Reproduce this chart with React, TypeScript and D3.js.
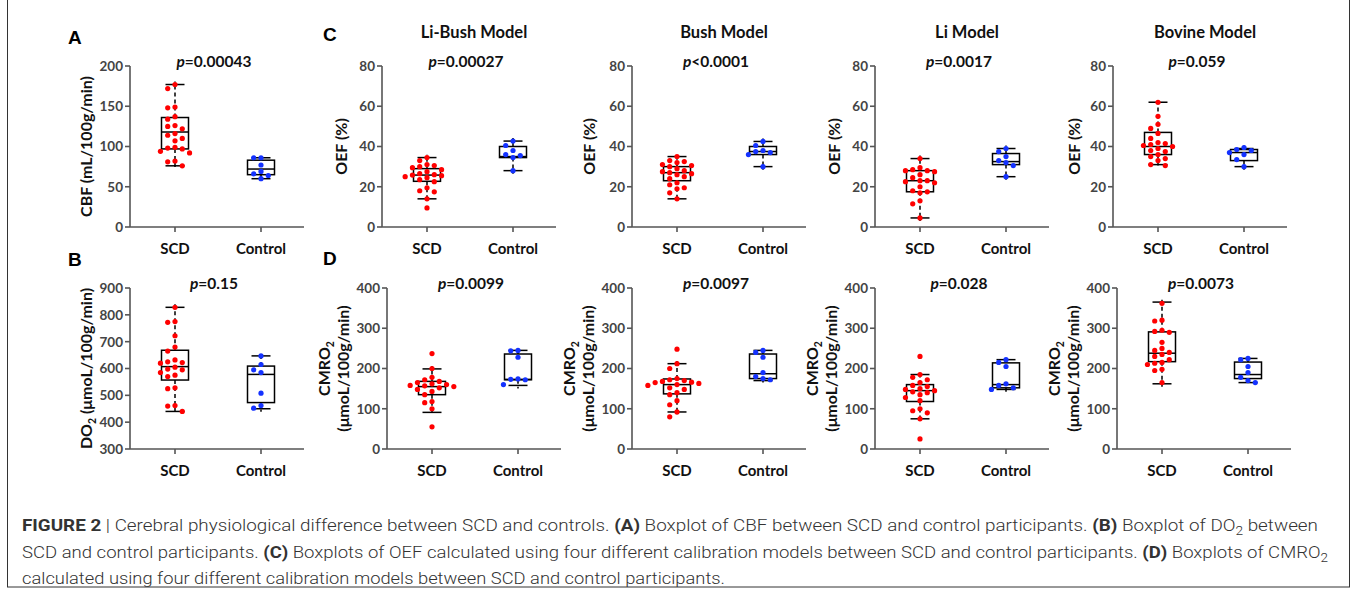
import * as d3 from "d3";

const groups = ["SCD", "Control"];

// A: CBF
const cbfScd = [177, 172, 149, 148, 137, 134, 126, 125, 122, 116, 114, 110, 107, 99, 98, 97, 94, 92, 82, 81, 76];
const cbfCtrl = [86, 86, 77, 69, 66, 64, 60];
const cbfBox = [[76, 97, 118, 136, 177], [60, 65, 72, 83, 86]];
const cbfTicks = [0, 50, 100, 150, 200];

// B: DO2
const do2Scd = [828, 775, 772, 722, 680, 665, 632, 625, 622, 620, 605, 598, 595, 585, 575, 570, 528, 525, 462, 460, 440];
const do2Ctrl = [647, 615, 595, 585, 508, 462, 452];
const do2Box = [[440, 557, 607, 668, 828], [450, 473, 578, 609, 647]];
const do2Ticks = [300, 400, 500, 600, 700, 800, 900];

// C: OEF
const oefTicks = [0, 20, 40, 60, 80];
const oefLiBushScd = [34.5, 33, 31, 30.5, 30, 29.5, 28.5, 27.5, 26.5, 26, 25.8, 25.5, 25, 24.5, 23.5, 22.5, 19.5, 18, 17.5, 14, 9.5];
const oefLiBushCtrl = [42.7, 40.5, 38, 36, 35.5, 34.5, 28];
const oefLiBushBox = [[14, 22.7, 25.8, 29, 34.5], [28, 34.5, 35, 40, 42.7]];
const oefBushScd = [35, 33, 32.5, 32, 31, 30.5, 30, 29, 28, 27.5, 27, 26.5, 26, 25, 24, 22, 21, 19.5, 19, 17, 14];
const oefBushCtrl = [42.5, 40.5, 38, 37.5, 37, 36, 30];
const oefBushBox = [[14, 23, 27, 30, 35], [30, 36, 37.5, 40, 42.5]];
const oefLiScd = [34, 29.5, 28.5, 28, 28, 27.5, 26, 24.5, 23, 23, 22.5, 22, 20, 18, 17.5, 17, 13, 11.5, 4.5];
const oefLiCtrl = [39, 37.5, 35, 33, 32, 30.5, 25];
const oefLiBox = [[4.5, 17.5, 23, 28, 34], [25, 31, 32.5, 36.5, 39]];
const oefBovineScd = [62, 55, 51, 49, 46.5, 44, 42, 41.5, 41, 40.5, 40, 39, 38, 37.5, 36, 35, 34, 33, 31, 30.5];
const oefBovineCtrl = [39.5, 38.5, 38, 37, 36, 33.5, 30];
const oefBovineBox = [[31, 36, 40, 47, 62], [30, 33, 37, 38.5, 39]];

// D: CMRO2
const cmroTicks = [0, 100, 200, 300, 400];
const cmroLiBushScd = [237, 200, 178, 172, 168, 165, 162, 160, 158, 157, 155, 152, 148, 143, 135, 118, 115, 100, 55];
const cmroLiBushCtrl = [245, 244, 228, 174, 173, 172, 160];
const cmroLiBushBox = [[91, 135, 155, 168, 199], [158, 172, 173, 236, 245]];
const cmroBushScd = [248, 212, 200, 175, 172, 170, 168, 166, 165, 163, 160, 158, 152, 148, 140, 135, 120, 110, 92, 80];
const cmroBushCtrl = [245, 240, 228, 190, 180, 175, 172];
const cmroBushBox = [[92, 137, 160, 174, 212], [170, 175, 187, 236, 245]];
const cmroLiScd = [230, 185, 178, 172, 165, 158, 155, 150, 148, 145, 142, 140, 135, 128, 120, 100, 95, 90, 75, 25];
const cmroLiCtrl = [222, 215, 205, 162, 158, 152, 148];
const cmroLiBox = [[75, 118, 145, 160, 185], [148, 152, 160, 214, 222]];
const cmroBovineScd = [362, 320, 318, 295, 292, 290, 265, 250, 245, 240, 235, 230, 222, 215, 213, 210, 198, 195, 165];
const cmroBovineCtrl = [225, 222, 205, 190, 178, 170, 165];
const cmroBovineBox = [[162, 217, 238, 291, 365], [165, 175, 185, 216, 225]];

const FONT = "Lato, 'Open Sans', sans-serif";
const colors = ["#ff0000", "#1432ff"];

const top1 = 66, bot1 = 227, top2 = 288, bot2 = 449;

const panels = [
  { id: "A", x: 130, top: top1, bot: bot1, domain: [0, 200], ticks: cbfTicks, scd: cbfScd, ctrl: cbfCtrl, box: cbfBox, p: "=0.00043", label: ["CBF (mL/100g/min)"], labelDx: [38] },
  { id: "B", x: 130, top: top2, bot: bot2, domain: [300, 900], ticks: do2Ticks, scd: do2Scd, ctrl: do2Ctrl, box: do2Box, p: "=0.15", label: ["DO2 (μmoL/100g/min)"], labelDx: [38] },
  { id: "C1", x: 382, top: top1, bot: bot1, domain: [0, 80], ticks: oefTicks, scd: oefLiBushScd, ctrl: oefLiBushCtrl, box: oefLiBushBox, p: "=0.00027", label: ["OEF (%)"], labelDx: [35], title: "Li-Bush Model" },
  { id: "C2", x: 632, top: top1, bot: bot1, domain: [0, 80], ticks: oefTicks, scd: oefBushScd, ctrl: oefBushCtrl, box: oefBushBox, p: "<0.0001", label: ["OEF (%)"], labelDx: [37], title: "Bush Model" },
  { id: "C3", x: 875, top: top1, bot: bot1, domain: [0, 80], ticks: oefTicks, scd: oefLiScd, ctrl: oefLiCtrl, box: oefLiBox, p: "=0.0017", label: ["OEF (%)"], labelDx: [35], title: "Li Model" },
  { id: "C4", x: 1113, top: top1, bot: bot1, domain: [0, 80], ticks: oefTicks, scd: oefBovineScd, ctrl: oefBovineCtrl, box: oefBovineBox, p: "=0.059", label: ["OEF (%)"], labelDx: [33], title: "Bovine Model" },
  { id: "D1", x: 387, top: top2, bot: bot2, domain: [0, 400], ticks: cmroTicks, scd: cmroLiBushScd, ctrl: cmroLiBushCtrl, box: cmroLiBushBox, p: "=0.0099", label: ["CMRO2", "(μmoL/100g/min)"], labelDx: [57, 38] },
  { id: "D2", x: 632, top: top2, bot: bot2, domain: [0, 400], ticks: cmroTicks, scd: cmroBushScd, ctrl: cmroBushCtrl, box: cmroBushBox, p: "=0.0097", label: ["CMRO2", "(μmoL/100g/min)"], labelDx: [57, 38] },
  { id: "D3", x: 875, top: top2, bot: bot2, domain: [0, 400], ticks: cmroTicks, scd: cmroLiScd, ctrl: cmroLiCtrl, box: cmroLiBox, p: "=0.028", label: ["CMRO2", "(μmoL/100g/min)"], labelDx: [57, 38] },
  { id: "D4", x: 1117, top: top2, bot: bot2, domain: [0, 400], ticks: cmroTicks, scd: cmroBovineScd, ctrl: cmroBovineCtrl, box: cmroBovineBox, p: "=0.0073", label: ["CMRO2", "(μmoL/100g/min)"], labelDx: [57, 38] },
];

// simple deterministic beeswarm so close values spread sideways
const swarm = (values, y, r) => {
  const placed = [];
  const sorted = [...values].sort((a, b) => b - a);
  sorted.forEach((v) => {
    const py = y(v);
    const steps = [0, -1, 1, -2, 2, -3, 3, -4, 4];
    for (const s of steps) {
      const px = s * r * 2.8;
      const hit = placed.some((p) => (p.x - px) ** 2 + (p.y - py) ** 2 < (r * 2.3) ** 2);
      if (!hit) {
        placed.push({ x: px, y: py, v });
        break;
      }
    }
  });
  return placed;
};

// renders the "2" of O2 as a subscript
const withSub = (str, size) => {
  const i = str.indexOf("O2");
  if (i < 0) return str;
  return [
    <tspan key="a">{str.slice(0, i + 1)}</tspan>,
    <tspan key="b" dy={4} fontSize={size * 0.65}>2</tspan>,
    <tspan key="c" dy={-4}>{str.slice(i + 2)}</tspan>,
  ];
};

const Panel = ({ cfg }) => {
  const y = d3.scaleLinear().domain(cfg.domain).range([cfg.bot, cfg.top]);
  const x = d3.scalePoint().domain(groups).range([cfg.x + 45, cfg.x + 131]);
  const xEnd = cfg.x + 174;
  const mid = (x("SCD") + x("Control")) / 2 - 4;
  const yMid = (cfg.top + cfg.bot) / 2;
  const boxW = 27;
  const capW = 19;
  const series = [cfg.scd, cfg.ctrl];

  return (
    <g>
      {cfg.title && (
        <text x={mid + 8} y={38} textAnchor="middle" fontSize={16.5} fontWeight={700} fill="#111">
          {cfg.title}
        </text>
      )}
      <text x={mid} y={cfg.top + 1} textAnchor="middle" fontSize={15.5} fontWeight={700} fill="#111">
        <tspan fontStyle="italic">p</tspan>
        {cfg.p}
      </text>

      {/* y label */}
      {cfg.label.map((l, i) => (
        <text
          key={l}
          transform={`translate(${cfg.x - cfg.labelDx[i]},${yMid}) rotate(-90)`}
          textAnchor="middle"
          fontSize={16}
          fontWeight={700}
          fill="#111"
        >
          {withSub(l, 16)}
        </text>
      ))}

      {/* axes */}
      <g stroke="#555" strokeWidth={1.6} fill="none">
        <line x1={cfg.x} x2={cfg.x} y1={cfg.top} y2={cfg.bot} />
        <line x1={cfg.x} x2={xEnd} y1={cfg.bot} y2={cfg.bot} />
        {cfg.ticks.map((t) => (
          <line key={t} x1={cfg.x - 5} x2={cfg.x} y1={y(t)} y2={y(t)} />
        ))}
        {groups.map((g) => (
          <line key={g} x1={x(g)} x2={x(g)} y1={cfg.bot} y2={cfg.bot + 5} />
        ))}
      </g>
      {cfg.ticks.map((t) => (
        <text key={t} x={cfg.x - 7} y={y(t)} dy="0.36em" textAnchor="end" fontSize={13.5} fontWeight={700} fill="#444">
          {t}
        </text>
      ))}
      {groups.map((g) => (
        <text key={g} x={x(g)} y={cfg.bot + 27} textAnchor="middle" fontSize={15} fontWeight={700} fill="#111">
          {g}
        </text>
      ))}

      {/* boxes */}
      {groups.map((g, gi) => {
        const [lo, q1, med, q3, hi] = cfg.box[gi];
        const cx = x(g);
        return (
          <g key={g} stroke="#000" strokeWidth={1.5} fill="none">
            <line x1={cx} x2={cx} y1={y(q3)} y2={y(hi) - 3} strokeDasharray="4 3" />
            <line x1={cx} x2={cx} y1={y(q1)} y2={y(lo) + 3} strokeDasharray="4 3" />
            <line x1={cx - capW / 2} x2={cx + capW / 2} y1={y(hi)} y2={y(hi)} />
            <line x1={cx - capW / 2} x2={cx + capW / 2} y1={y(lo)} y2={y(lo)} />
            <rect x={cx - boxW / 2} y={y(q3)} width={boxW} height={y(q1) - y(q3)} fill="#fff" />
            <line x1={cx - boxW / 2} x2={cx + boxW / 2} y1={y(med)} y2={y(med)} />
          </g>
        );
      })}

      {/* points */}
      {groups.map((g, gi) =>
        swarm(series[gi], y, 2.6).map((p, i) => (
          <circle key={g + i} cx={x(g) + p.x} cy={p.y} r={2.6} fill={colors[gi]} />
        ))
      )}
    </g>
  );
};

const captionLines = [
  { w: 1296, parts: [["FIGURE 2", 1], [" | ", 0], ["Cerebral physiological difference between SCD and controls. ", 0], ["(A)", 1], [" Boxplot of CBF between SCD and control participants. ", 0], ["(B)", 1], [" Boxplot of DO", 0], ["2", 2], [" between", 0]] },
  { w: 1306, parts: [["SCD and control participants. ", 0], ["(C)", 1], [" Boxplots of OEF calculated using four different calibration models between SCD and control participants. ", 0], ["(D)", 1], [" Boxplots of CMRO", 0], ["2", 2]] },
  { w: 703, parts: [["calculated using four different calibration models between SCD and control participants.", 0]] },
];

export default function App() {
  return (
    <div>
      <style>{`body{margin:0}`}</style>
      <svg width={1357} height={594} style={{ display: "block", background: "#fff" }} fontFamily={FONT}>
        <rect x={7.5} y={-2} width={1342} height={589} fill="none" stroke="#333" strokeWidth={1} />

        {[["A", 68, 44], ["B", 68, 266], ["C", 323, 41], ["D", 323, 265]].map(([t, px, py]) => (
          <text key={t} x={px} y={py} fontSize={19} fontWeight={700} fontFamily="'Liberation Sans', Arial, sans-serif" fill="#000">
            {t}
          </text>
        ))}

        {panels.map((p) => (
          <Panel key={p.id} cfg={p} />
        ))}

        {captionLines.map((line, i) => {
          let down = false;
          return (
            <text
              key={i}
              x={22}
              y={531 + i * 26.5}
              fontSize={16.5}
              fontFamily="Roboto, 'Liberation Sans', sans-serif"
              fontWeight={300}
              fill="#333"
              textLength={line.w}
              lengthAdjust="spacingAndGlyphs"
            >
              {line.parts.map(([s, k], j) => {
                if (k === 2) {
                  down = true;
                  return (
                    <tspan key={j} dy={4} fontSize={12}>
                      {s}
                    </tspan>
                  );
                }
                const dy = down ? -4 : 0;
                down = false;
                return (
                  <tspan key={j} dy={dy} fontWeight={k === 1 ? 700 : 300}>
                    {s}
                  </tspan>
                );
              })}
            </text>
          );
        })}
      </svg>
    </div>
  );
}
